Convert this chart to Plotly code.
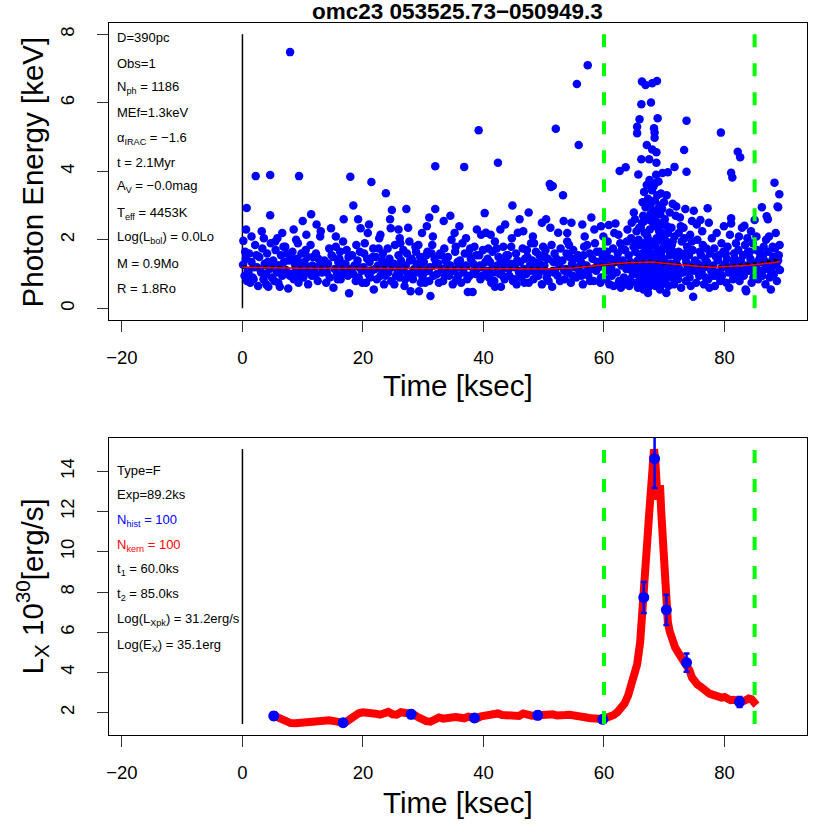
import plotly.graph_objects as go

# ---------------- data ----------------
title_text = "omc23 053525.73\u2212050949.3"

# photon arrival times [ksec] and energies [keV]
ph_00_10 = [(0.10,1.27),(0.15,1.97),(0.35,0.95),(0.55,1.45),(0.75,0.80),(0.90,1.10),
            (1.10,1.60),(1.30,0.75),(1.50,1.35),(1.70,0.90),(1.90,1.20),(1.50,2.10),
            (2.10,1.85),(2.20,3.86),(2.40,1.20),(2.60,0.65),(2.80,1.50),(0.70,2.93),
            (3.10,1.05),(3.30,1.75),(3.50,0.85),(3.70,1.30),(3.90,1.00),(3.20,2.25),
            (4.10,1.60),(4.30,0.63),(4.50,1.15),(4.60,3.89),(4.60,2.72),(4.70,1.90),(4.90,0.90),
            (5.10,1.40),(5.30,0.80),(5.50,1.70),(5.70,1.05),(5.90,1.25),(5.80,2.05),
            (6.10,1.25),(6.20,0.63),(6.40,1.55),(6.60,0.95),(6.80,1.80),
            (7.10,1.80),(7.30,1.10),(7.60,0.58),(7.70,1.40),(7.90,7.48),
            (8.10,1.00),(8.30,1.65),(8.50,0.85),(8.70,1.30),(8.90,2.00),(8.50,2.30),
            (9.10,1.45),(9.30,0.75),(9.40,3.86),(9.50,1.15),(9.80,1.60)]
ph_10_20 = [(10.10,0.90),(10.30,1.35),(10.50,1.70),(10.70,1.05),(10.90,0.70),(10.60,2.15),
            (11.10,1.20),(11.30,1.85),(11.40,2.75),(11.50,0.95),(11.70,1.50),(11.90,1.10),
            (12.20,1.60),(12.30,2.45),(12.50,0.80),(12.80,1.25),(12.90,2.10),
            (13.20,1.05),(13.60,1.40),(13.90,0.75),
            (14.20,1.30),(14.70,2.34),(14.50,0.90),(14.80,1.55),
            (15.10,0.60),(15.30,1.15),(15.50,1.80),(15.70,1.00),(15.90,1.35),(15.50,2.10),
            (16.10,1.45),(16.30,0.85),(16.50,1.20),(16.70,1.95),(16.90,1.05),(16.80,2.60),
            (17.10,1.30),(17.30,1.70),(17.50,0.95),(17.70,0.44),(17.90,1.15),
            (17.90,3.84),(18.20,1.55),(18.40,1.00),(18.60,1.25),(18.80,0.80),(18.40,3.00),
            (19.10,1.40),(19.60,2.34),(19.30,0.90),(19.50,1.65),(19.80,1.10),(19.20,2.60)]
ph_20_30 = [(20.10,1.20),(20.30,1.90),(20.50,0.75),(20.70,1.45),(20.90,1.00),(20.80,2.20),
            (21.10,1.35),(21.40,3.69),(21.50,1.10),(21.70,1.75),(21.80,0.55),
            (22.10,1.50),(22.30,0.85),(22.50,1.25),(22.70,2.05),(22.90,0.95),(22.90,2.15),
            (23.10,1.15),(23.30,1.60),(23.50,0.70),(23.80,3.36),(23.90,1.30),
            (24.20,1.05),(24.60,2.34),(24.80,2.87),(24.40,1.45),(24.70,0.80),(24.50,2.60),
            (25.10,1.30),(25.30,1.85),(25.50,0.95),(25.70,1.20),(25.90,1.55),
            (26.10,0.90),(26.30,1.40),(26.50,1.10),(26.70,1.70),(26.90,0.65),(26.10,2.05),
            (27.10,1.25),(27.30,1.60),(27.50,1.00),(27.70,1.95),(27.90,0.50),(27.50,2.35),(27.20,2.90),
            (28.10,1.45),(28.30,0.85),(28.50,1.15),(28.70,1.80),(28.90,1.30),
            (29.10,1.05),(29.30,0.50),(29.50,1.50),(29.70,1.25),(29.90,0.90),(29.80,2.20)]
ph_30_40 = [(30.10,1.35),(30.30,0.75),(30.60,2.40),(30.70,1.65),(30.90,1.10),
            (31.10,1.20),(31.20,0.36),(31.50,1.85),(31.70,0.95),(31.90,1.45),(31.60,2.10),
            (32.00,4.15),(32.00,2.90),(32.30,1.00),(32.50,1.30),(32.80,1.60),
            (33.10,1.15),(33.30,0.80),(33.50,1.75),(33.70,1.40),(33.90,1.05),(33.40,2.55),
            (34.10,1.50),(34.30,0.95),(34.50,1.25),(34.70,2.00),(34.90,0.70),(34.50,2.70),
            (35.10,1.10),(35.30,1.65),(35.50,0.85),(35.70,1.35),(35.90,1.20),(35.20,2.20),
            (36.10,1.40),(36.30,0.75),(36.50,1.90),(36.70,1.05),(36.80,4.13),
            (37.10,1.25),(37.40,0.48),(37.50,1.60),(37.70,0.95),(37.90,1.45),(37.10,2.05),
            (38.20,0.48),(38.30,1.30),(38.50,1.80),(38.70,1.00),(38.90,1.15),(38.90,2.30),
            (39.20,5.20),(39.30,1.55),(39.50,0.85),(39.70,1.20),(39.90,1.70)]
ph_40_50 = [(40.20,2.78),(40.40,2.21),(40.50,1.10),(40.70,1.45),(40.90,0.90),
            (41.10,1.35),(41.30,0.75),(41.50,1.65),(41.70,1.05),(41.90,1.95),(41.90,0.63),(41.20,2.15),
            (42.40,4.25),(42.30,1.25),(42.50,1.50),(42.70,1.00),(42.90,0.63),
            (43.10,1.15),(43.30,1.80),(43.50,0.85),(43.70,1.40),(43.90,1.20),(43.60,2.45),
            (44.10,1.55),(44.30,0.95),(44.50,1.30),(44.70,2.05),(44.90,0.80),(44.80,3.00),
            (45.50,0.70),(45.70,2.21),(45.20,1.20),(45.40,1.60),(45.90,1.05),
            (46.10,1.35),(46.30,0.90),(46.50,1.75),(46.70,1.15),(46.90,1.45),(46.60,2.25),
            (47.10,1.00),(47.30,1.50),(47.50,0.75),(47.70,1.25),(47.90,1.90),(47.50,2.80),
            (48.10,1.40),(48.30,0.85),(48.50,1.10),(48.70,1.65),(48.90,1.30),(48.20,2.10),
            (49.10,0.95),(49.30,1.55),(49.50,1.20),(49.70,0.70),(49.90,1.80),(49.70,2.50)]
ph_50_60 = [(50.10,1.25),(50.30,1.70),(50.50,0.90),(50.70,1.45),(50.90,1.05),(50.40,2.60),
            (51.00,3.63),(51.20,3.54),(51.50,3.57),(51.40,0.63),(51.60,1.35),(51.80,1.60),(51.90,1.10),
            (52.00,5.24),(52.40,2.21),(52.30,0.95),(52.60,1.25),(52.80,1.75),
            (53.30,2.55),(53.20,3.30),(53.10,1.40),(53.50,0.85),(53.70,1.15),(53.90,1.95),(53.90,2.20),
            (54.10,1.05),(54.30,1.50),(54.50,0.75),(54.70,1.30),(54.90,1.70),
            (55.50,6.55),(55.80,4.77),(55.20,1.20),(55.40,0.90),(55.70,1.55),
            (56.40,2.45),(56.50,0.70),(56.20,1.35),(56.70,1.80),(56.90,1.05),(56.80,2.10),
            (57.30,7.10),(57.10,1.25),(57.40,0.95),(57.60,1.60),(57.80,1.15),
            (58.10,1.45),(58.30,0.80),(58.50,1.90),(58.70,1.10),(58.90,1.35),(58.40,2.30),
            (59.10,1.20),(59.30,1.65),(59.50,0.90),(59.70,1.40),(59.90,2.10)]
ph_fill_00_30 = [(0.45,1.65),(1.00,1.05),(1.85,0.85),(2.30,1.55),(2.95,1.15),(3.55,2.05),(3.95,0.70),
                 (4.20,1.35),(4.85,1.25),(5.45,1.95),(5.95,0.75),(6.30,1.15),(6.90,1.35),(7.35,1.60),
                 (7.85,0.95),(8.25,1.45),(8.75,1.05),(9.20,1.90),(9.65,0.95),(9.95,1.30),
                 (10.20,1.20),(10.80,1.50),(11.60,1.25),(12.10,0.95),(12.60,1.45),(13.40,1.20),
                 (14.00,1.05),(14.40,1.75),(15.00,1.50),(15.80,0.85),(16.20,1.65),(16.60,1.30),
                 (17.20,1.05),(17.60,1.50),(18.10,1.10),(18.90,1.85),(19.40,1.20),(19.90,0.75),
                 (20.20,1.60),(20.60,1.10),(21.20,0.90),(21.60,1.50),(22.00,1.15),(22.60,1.75),
                 (23.20,1.40),(23.70,0.95),(24.10,1.75),(24.90,1.20),(25.20,0.70),(25.80,1.05),
                 (26.20,1.90),(26.60,1.25),(27.00,0.85),(27.80,1.40),(28.20,1.05),(28.80,1.65),
                 (29.20,1.85),(29.60,0.75),(0.60,2.30),(6.60,2.20),(10.00,2.55),(13.00,2.25),
                 (21.00,2.45),(25.90,2.30)]
ph_fill_30_60 = [(30.20,1.05),(30.50,1.55),(31.00,0.80),(31.40,1.60),(32.10,1.30),(32.60,0.75),
                 (33.00,1.55),(33.60,0.95),(34.00,1.30),(34.80,1.15),(35.40,1.80),(35.80,0.95),
                 (36.20,1.20),(36.90,1.60),(37.30,0.85),(37.80,1.75),(38.40,1.10),(38.80,1.55),
                 (39.40,1.25),(39.80,0.95),(40.30,1.35),(40.80,1.75),(41.40,1.15),(41.80,0.80),
                 (42.20,1.75),(42.80,1.30),(43.20,0.95),(43.80,1.55),(44.20,1.15),(44.60,1.80),
                 (45.10,0.85),(45.60,1.40),(46.20,1.10),(46.80,0.75),(47.20,1.70),(47.80,1.10),
                 (48.40,1.90),(48.80,1.00),(49.20,1.35),(49.80,1.10),(50.20,1.50),(50.80,0.80),
                 (51.30,1.85),(51.70,1.05),(52.10,1.45),(52.70,0.80),(53.40,1.10),(53.80,1.60),
                 (54.20,1.85),(54.80,0.95),(55.10,1.45),(55.90,1.10),(56.30,0.95),(56.60,1.55),
                 (57.20,1.85),(57.70,0.80),(58.20,1.15),(58.80,1.65),(59.40,0.75),(59.80,1.50),
                 (31.00,2.65),(36.00,2.40),(39.60,2.15),(42.80,2.30),(46.00,2.60),(51.10,2.35),
                 (54.60,2.50),(57.90,2.65),(59.50,2.40)]
ph_60_65 = [(60.10,1.30),(60.30,0.85),(60.50,1.65),(60.70,1.10),(60.80,2.43),(60.90,0.70),(60.60,1.95),
            (61.10,1.45),(61.30,0.95),(61.50,1.75),(61.70,2.20),(61.90,2.48),(61.20,1.20),(61.60,0.65),(61.80,1.35),
            (62.10,1.05),(62.30,1.60),(62.50,0.80),(62.60,4.01),(62.70,1.90),(62.90,1.25),(62.40,2.15),(62.80,0.60),
            (63.10,1.40),(63.30,0.90),(63.50,1.70),(63.60,4.12),(63.70,1.15),(63.90,2.30),(63.40,0.70),(63.80,1.95),(63.20,1.25),
            (64.10,1.55),(64.30,0.85),(64.50,2.05),(64.70,1.20),(64.90,1.80),(64.20,0.65),(64.40,1.35),(64.60,2.50),(64.80,1.00),(64.95,2.80)]
ph_65_68 = [(65.05,1.10),(65.20,1.65),(65.30,0.75),(65.40,2.25),(65.50,5.30),(65.50,5.11),(65.60,1.40),(65.70,3.91),
            (65.80,0.95),(65.90,5.52),(65.90,1.85),(65.15,2.60),(65.35,1.25),(65.65,0.60),(65.75,2.00),(65.95,1.50),
            (66.05,1.20),(66.10,2.35),(66.20,5.96),(66.20,4.35),(66.25,0.85),(66.30,6.62),(66.35,1.60),(66.40,3.10),
            (66.45,1.05),(66.50,2.70),(66.55,0.55),(66.60,1.90),(66.65,3.40),(66.70,1.35),(66.75,2.20),(66.80,0.95),
            (66.85,1.70),(66.90,6.52),(66.90,2.95),(66.95,1.15),(66.15,0.70),(66.35,2.50),
            (67.05,1.45),(67.10,3.60),(67.10,4.77),(67.15,0.80),(67.20,2.10),(67.25,1.25),(67.30,3.20),(67.35,0.60),
            (67.40,1.75),(67.45,2.65),(67.50,4.35),(67.50,1.05),(67.55,3.75),(67.60,2.30),(67.65,1.40),(67.70,0.90),
            (67.75,3.05),(67.80,6.01),(67.80,1.95),(67.85,2.55),(67.90,1.20),(67.95,3.45),(67.30,0.45),(67.60,1.60),(67.90,0.70)]
ph_68_71 = [(68.00,6.57),(68.00,4.64),(68.05,1.30),(68.10,2.85),(68.15,0.75),(68.20,3.55),(68.25,1.85),(68.30,5.26),
            (68.30,2.40),(68.35,1.10),(68.40,5.13),(68.40,4.98),(68.45,3.15),(68.50,1.55),(68.55,0.65),(68.60,2.70),
            (68.65,3.90),(68.70,4.56),(68.70,4.25),(68.70,1.35),(68.75,2.05),(68.80,6.64),(68.80,0.90),(68.85,3.30),
            (68.90,5.55),(68.90,1.70),(68.95,2.50),(68.20,1.00),(68.50,3.65),(68.80,1.20),
            (69.05,3.70),(69.10,1.45),(69.15,2.25),(69.20,0.85),(69.25,3.00),(69.30,1.65),(69.35,2.75),(69.40,1.05),
            (69.45,3.35),(69.50,2.00),(69.55,0.70),(69.60,1.50),(69.65,2.90),(69.70,3.95),(69.75,1.25),(69.80,2.45),
            (69.85,0.95),(69.90,1.80),(69.95,3.10),(69.30,0.55),(69.60,2.20),
            (70.05,1.40),(70.10,2.60),(70.20,0.80),(70.30,1.95),(70.40,3.30),(70.50,1.15),(70.60,3.97),(70.60,2.20),
            (70.70,0.65),(70.80,1.70),(70.90,2.80),(70.15,1.25),(70.45,2.40),(70.75,1.00),(70.95,1.55),(70.35,0.45)]
ph_71_76 = [(71.10,1.30),(71.20,2.35),(71.30,0.90),(71.40,3.05),(71.50,1.65),(71.60,0.70),(71.70,4.13),(71.70,2.10),
            (71.80,1.20),(71.90,2.70),(71.25,1.85),(71.55,1.05),
            (72.00,2.97),(72.10,1.45),(72.30,0.85),(72.40,2.20),(72.50,1.15),(72.60,2.65),(72.70,1.60),(72.80,0.60),
            (72.90,1.95),(72.20,1.25),(72.75,2.40),
            (73.10,1.05),(73.20,2.35),(73.30,4.62),(73.40,1.50),(73.50,2.90),(73.60,0.80),(73.70,5.48),(73.70,3.99),
            (73.80,1.80),(73.90,1.20),(73.35,2.05),(73.65,1.35),
            (74.10,1.55),(74.20,0.90),(74.30,2.15),(74.50,1.25),(74.60,2.55),(74.80,0.34),(74.90,2.85),(74.70,1.70),
            (74.40,0.65),(74.95,1.10),
            (75.10,1.40),(75.30,0.75),(75.50,2.00),(75.70,1.15),(75.90,1.65),(75.40,2.45),(75.80,0.95),(75.60,1.30)]
ph_76_82 = [(76.00,2.58),(76.20,1.05),(76.40,1.85),(76.60,0.70),(76.80,1.45),(76.30,2.25),(76.70,1.20),(76.90,0.90),
            (77.20,2.92),(77.40,2.50),(77.10,1.35),(77.30,0.85),(77.60,1.60),(77.80,1.10),(77.90,2.05),(77.50,0.60),
            (78.10,1.25),(78.30,1.75),(78.50,0.95),(78.70,2.20),(78.90,1.40),(78.40,0.65),(78.80,1.05),
            (79.10,1.55),(79.40,5.13),(79.30,0.80),(79.50,1.90),(79.70,1.20),(79.90,2.40),(79.60,0.95),(79.80,1.65),
            (80.10,1.30),(80.30,0.75),(80.50,1.80),(80.70,1.05),(80.90,2.15),(80.40,1.45),(80.80,0.60),
            (81.10,2.63),(81.10,2.48),(81.10,3.96),(81.30,3.82),(81.20,1.20),(81.40,0.85),(81.60,1.60),(81.80,1.00),
            (81.90,1.90),(81.50,1.35)]
ph_82_90 = [(82.20,4.57),(82.60,4.41),(82.90,2.35),(82.10,1.15),(82.30,1.70),(82.50,0.80),(82.70,1.40),(82.40,2.10),(82.80,1.00),
            (83.30,2.41),(83.50,0.55),(83.60,0.50),(83.10,1.55),(83.20,0.95),(83.40,1.85),(83.70,1.25),(83.90,1.65),(83.80,2.05),
            (84.10,1.10),(84.30,1.45),(84.50,0.75),(84.70,1.90),(84.90,1.30),(84.40,2.25),(84.80,0.90),
            (85.00,2.58),(85.20,1.20),(85.40,1.70),(85.60,0.85),(85.80,1.45),(85.30,2.10),(85.70,1.05),(85.90,1.60),
            (86.20,2.95),(86.10,1.35),(86.30,0.95),(86.50,1.80),(86.70,1.15),(86.90,2.00),(86.40,1.55),(86.80,0.70),
            (87.00,2.69),(87.20,2.60),(87.70,0.55),(87.10,1.25),(87.30,1.65),(87.50,0.90),(87.90,1.40),(87.40,2.10),(87.60,1.10),
            (88.30,3.67),(88.80,2.97),(88.90,2.95),(88.10,1.50),(88.20,1.00),(88.40,1.75),(88.60,1.25),(88.50,2.20),(88.70,0.80),
            (89.10,3.33),(89.20,1.12),(89.00,1.55),(89.15,1.85)]
ph_fill_60_90 = [(60.40,1.45),(61.40,1.05),(62.20,1.45),(63.00,1.75),(64.00,1.15),(65.10,1.95),(65.45,1.05),
                 (65.85,2.35),(66.00,1.45),(66.60,1.25),(66.70,2.55),(67.00,1.85),(67.40,1.30),(67.70,2.75),
                 (68.10,1.60),(68.60,1.90),(68.90,2.90),(69.00,1.20),(69.40,2.45),(69.70,1.70),(70.00,2.10),
                 (70.50,1.75),(70.90,1.25),(71.40,1.95),(71.90,0.95),(72.40,1.65),(72.90,1.05),(73.50,1.60),
                 (74.00,1.10),(74.60,1.95),(75.20,1.15),(76.10,1.55),(76.50,1.25),(77.00,1.75),(78.00,0.95),
                 (78.60,1.50),(79.20,1.05),(80.20,1.60),(80.60,1.20),(81.70,1.45),(82.20,1.30),(83.00,1.10),
                 (84.20,1.65),(84.60,1.20),(85.50,1.35),(86.00,1.10),(86.60,1.40),(87.80,1.20),(88.00,1.80),
                 (88.90,1.40)]

# running median energy (red) and smoothed energy (black dashed)
med_t = [0, 5, 10, 15, 20, 25, 30, 35, 40, 45, 50, 55, 58, 60, 62, 64, 66, 68, 70, 72, 74, 76, 78, 80, 82, 84, 86, 88, 89.2]
med_e = [1.20, 1.18, 1.17, 1.17, 1.17, 1.17, 1.17, 1.16, 1.16, 1.16, 1.15, 1.18, 1.24, 1.27, 1.31, 1.33, 1.35, 1.35, 1.32, 1.28, 1.25, 1.22, 1.20, 1.21, 1.24, 1.26, 1.29, 1.33, 1.37]
smo_e = [1.21, 1.19, 1.18, 1.18, 1.18, 1.17, 1.17, 1.17, 1.16, 1.16, 1.16, 1.19, 1.24, 1.27, 1.31, 1.33, 1.35, 1.35, 1.32, 1.28, 1.26, 1.23, 1.21, 1.22, 1.25, 1.28, 1.32, 1.38, 1.42]

# kernel-smoothed light curve
kern_t = [5.3, 5.8, 6.5, 7.2, 8.0, 8.8, 9.6, 10.4, 11.2, 12.0, 12.8, 13.6, 14.4, 15.2, 16.0, 16.7, 17.4, 18.0, 18.6, 19.3,
          20.0, 20.7, 21.4, 22.1, 22.8, 23.5, 24.2, 24.9, 25.6, 26.3, 27.0, 27.7, 28.4, 29.1, 29.8, 30.5, 31.2, 31.9, 32.6, 33.3,
          34.0, 34.7, 35.4, 36.1, 36.8, 37.5, 38.2, 38.9, 39.6, 40.3, 41.0, 41.7, 42.4, 43.1, 43.8, 44.5, 45.2, 45.9, 46.6, 47.3,
          48.0, 48.7, 49.4, 50.1, 50.8, 51.5, 52.2, 52.9, 53.6, 54.3, 55.0, 55.7, 56.4, 57.1, 57.8, 58.5, 59.2, 59.8, 60.4, 61.0,
          61.6, 62.2, 62.8, 63.4, 64.0, 64.5, 65.0, 65.5, 66.0, 66.3, 66.6, 66.9, 67.2, 67.5, 67.8, 68.1, 68.3, 68.5, 68.7, 68.9,
          69.1, 69.3, 69.5, 69.7, 69.9, 70.1, 70.35, 70.6, 70.9, 71.3, 71.8, 72.3, 72.8, 73.2, 73.7, 74.2, 74.6, 75.0, 75.5, 76.0,
          76.5, 77.0, 77.5, 78.0, 78.5, 79.0, 79.5, 80.0, 80.5, 81.0, 81.5, 82.0, 82.5, 83.0, 83.5, 84.0, 84.5, 85.0, 85.3]
kern_l = [1.84, 1.78, 1.65, 1.55, 1.48, 1.47, 1.50, 1.47, 1.49, 1.52, 1.55, 1.58, 1.62, 1.58, 1.52, 1.50, 1.58, 1.72, 1.86, 1.97,
          2.02, 2.00, 2.05, 1.95, 1.90, 2.00, 2.04, 1.92, 1.90, 2.02, 2.00, 1.98, 1.92, 1.78, 1.66, 1.58, 1.55, 1.65, 1.76, 1.70,
          1.68, 1.76, 1.78, 1.70, 1.72, 1.80, 1.76, 1.72, 1.82, 1.88, 1.84, 1.90, 1.96, 1.88, 1.86, 1.84, 1.88, 1.84, 1.96, 1.88,
          1.85, 1.86, 1.90, 1.92, 1.96, 1.92, 1.86, 1.82, 1.88, 1.90, 1.84, 1.80, 1.82, 1.76, 1.72, 1.74, 1.70, 1.67, 1.72, 1.80,
          1.88, 2.02, 2.20, 2.45, 2.85, 3.30, 3.70, 4.40, 5.50, 6.50, 7.73, 9.00, 10.60, 11.90, 12.80, 13.80, 15.10, 14.60, 13.40, 12.60,
          13.20, 13.30, 12.00, 10.60, 9.60, 8.30, 7.11, 6.50, 6.05, 5.60, 5.25, 5.00, 4.80, 4.62, 4.45, 4.10, 3.75, 3.55, 3.40, 3.30,
          3.15, 3.05, 2.95, 2.90, 2.82, 2.80, 2.75, 2.78, 2.66, 2.62, 2.64, 2.58, 2.53, 2.56, 2.62, 2.70, 2.66, 2.48, 2.38]

# histogram (100 photons per bin) points and their errors
hist_t = [5.2, 16.7, 28.0, 38.5, 49.0, 59.8, 66.6, 68.4, 70.35, 73.7, 82.5]
hist_l = [1.84, 1.50, 1.92, 1.74, 1.87, 1.67, 7.73, 14.63, 7.11, 4.49, 2.53]
hist_err = [0.18, 0.15, 0.19, 0.17, 0.19, 0.17, 0.77, 1.46, 0.75, 0.45, 0.25]

t1, t2 = 60.0, 85.0
t_start = 0.0
top_ylim = (0.0, 8.0)
bot_ylim = (1.44, 15.11)

x_ticks = [-20, 0, 20, 40, 60, 80]
top_yticks = [0, 2, 4, 6, 8]
bot_yticks = [2, 4, 6, 8, 10, 12, 14]

top_info = ["D=390pc", "Obs=1", "N<sub>ph</sub> = 1186", "MEf=1.3keV",
            "\u03b1<sub>IRAC</sub> = \u22121.6", "t = 2.1Myr", "A<sub>V</sub> = \u22120.0mag",
            "T<sub>eff</sub> = 4453K", "Log(L<sub>bol</sub>) = 0.0Lo", "M = 0.9Mo", "R = 1.8Ro"]
bot_info = ["Type=F", "Exp=89.2ks", "N<sub>hist</sub> = 100", "N<sub>kern</sub> = 100",
            "t<sub>1</sub> = 60.0ks", "t<sub>2</sub> = 85.0ks",
            "Log(L<sub>Xpk</sub>) = 31.2erg/s", "Log(E<sub>X</sub>) = 35.1erg"]
bot_info_colors = ["black", "black", "#0000ff", "#ff0000", "black", "black", "black", "black"]

# ---------------- figure ----------------
photons = ph_00_10 + ph_10_20 + ph_20_30 + ph_30_40 + ph_40_50 + ph_50_60 + \
          ph_fill_00_30 + ph_fill_30_60 + \
          ph_60_65 + ph_65_68 + ph_68_71 + ph_71_76 + ph_76_82 + ph_82_90 + ph_fill_60_90
ph_t = [p[0] for p in photons]
ph_e = [p[1] for p in photons]

W = H = 830
FONT = "Liberation Sans, Arial, Helvetica, sans-serif"

def px_x(p):
    return p / W

def px_y(p):
    return 1 - p / H

fig = go.Figure()

fig.add_trace(go.Scatter(x=ph_t, y=ph_e, mode="markers",
                         marker=dict(color="#0000ff", size=8.5, line=dict(width=0)),
                         xaxis="x", yaxis="y", hoverinfo="skip"))
fig.add_trace(go.Scatter(x=med_t, y=smo_e, mode="lines",
                         line=dict(color="black", width=3, dash="4px,3px"),
                         xaxis="x", yaxis="y"))
fig.add_trace(go.Scatter(x=med_t, y=med_e, mode="lines",
                         line=dict(color="#ff0000", width=1.5),
                         xaxis="x", yaxis="y"))

fig.add_trace(go.Scatter(x=kern_t, y=kern_l, mode="lines",
                         line=dict(color="#ff0000", width=8),
                         xaxis="x2", yaxis="y2"))
fig.add_trace(go.Scatter(x=hist_t, y=hist_l, mode="markers",
                         marker=dict(color="#0000ff", size=11),
                         error_y=dict(type="data", array=hist_err, color="#0000ff",
                                      thickness=2.5, width=3),
                         xaxis="x2", yaxis="y2"))

xdom = [px_x(107), px_x(807)]
top_dom = [px_y(320), px_y(23)]
bot_dom = [px_y(735), px_y(438)]

axis_common = dict(showline=True, mirror=True, linecolor="black", linewidth=1,
                   ticks="outside", ticklen=11, tickcolor="#333", tickwidth=1,
                   showgrid=False, zeroline=False,
                   tickfont=dict(family=FONT, size=18.5, color="black"))

fig.update_layout(
    width=W, height=H, autosize=False,
    margin=dict(l=0, r=0, t=0, b=0),
    paper_bgcolor="white", plot_bgcolor="white",
    showlegend=False,
    xaxis=dict(domain=xdom, anchor="y", range=[-22.19, 93.7], tickvals=x_ticks,
               ticklabelstandoff=10, **axis_common),
    yaxis=dict(domain=top_dom, anchor="x", range=[-0.34, 8.33], tickvals=top_yticks,
               tickangle=-90, ticklabelstandoff=15, **axis_common),
    xaxis2=dict(domain=xdom, anchor="y2", range=[-22.19, 93.7], tickvals=x_ticks,
                ticklabelstandoff=10, **axis_common),
    yaxis2=dict(domain=bot_dom, anchor="x2", range=[0.89, 15.66], tickvals=bot_yticks,
                tickangle=-90, ticklabelstandoff=15, **axis_common),
)

shapes = []
# t = 0 reference lines
shapes.append(dict(type="line", xref="x", yref="y", x0=t_start, x1=t_start,
                   y0=top_ylim[0], y1=top_ylim[1], line=dict(color="black", width=1.5), layer="below"))
shapes.append(dict(type="line", xref="x2", yref="y2", x0=t_start, x1=t_start,
                   y0=bot_ylim[0], y1=bot_ylim[1], line=dict(color="black", width=1.5), layer="below"))
for tv in (t1, t2):
    shapes.append(dict(type="line", xref="x", yref="y", x0=tv, x1=tv,
                       y0=top_ylim[0], y1=top_ylim[1],
                       line=dict(color="#00ff00", width=4, dash="13px,16px"), layer="above"))
    shapes.append(dict(type="line", xref="x2", yref="y2", x0=tv, x1=tv,
                       y0=bot_ylim[0], y1=bot_ylim[1],
                       line=dict(color="#00ff00", width=4, dash="13px,16px"), layer="above"))
fig.update_layout(shapes=shapes)

ann = []
ann.append(dict(text="<b>" + title_text + "</b>", xref="paper", yref="paper",
                x=px_x(457), y=px_y(11.5), showarrow=False, xanchor="center", yanchor="middle",
                font=dict(family=FONT, size=22.5, color="black")))
for yc in (385, 802):
    ann.append(dict(text="Time [ksec]", xref="paper", yref="paper",
                    x=px_x(457), y=px_y(yc), showarrow=False, xanchor="center", yanchor="middle",
                    font=dict(family=FONT, size=29.5, color="black")))
ann.append(dict(text="Photon Energy [keV]", xref="paper", yref="paper",
                x=px_x(31), y=px_y(171.5), showarrow=False, textangle=-90,
                xanchor="center", yanchor="middle",
                font=dict(family=FONT, size=29.5, color="black")))
ann.append(dict(text="L<sub>X</sub> 10<sup>30</sup>[erg/s]", xref="paper", yref="paper",
                x=px_x(30), y=px_y(586.5), showarrow=False, textangle=-90,
                xanchor="center", yanchor="middle",
                font=dict(family=FONT, size=29.5, color="black")))

top_rows = [38, 63, 87, 113, 138, 162, 187, 213, 238, 263, 288]
for txt, yc in zip(top_info, top_rows):
    ann.append(dict(text=txt, xref="paper", yref="paper", x=px_x(113), y=px_y(yc),
                    showarrow=False, xanchor="left", yanchor="middle",
                    font=dict(family=FONT, size=13, color="black")))
bot_rows = [470, 494, 520, 545, 569, 594, 619, 645]
for txt, yc, col in zip(bot_info, bot_rows, bot_info_colors):
    ann.append(dict(text=txt, xref="paper", yref="paper", x=px_x(113), y=px_y(yc),
                    showarrow=False, xanchor="left", yanchor="middle",
                    font=dict(family=FONT, size=13, color=col)))
fig.update_layout(annotations=ann)

fig.write_html("out.html", config={"displayModeBar": False},
               post_script="document.body.style.margin='0px';document.body.style.overflow='hidden';")
